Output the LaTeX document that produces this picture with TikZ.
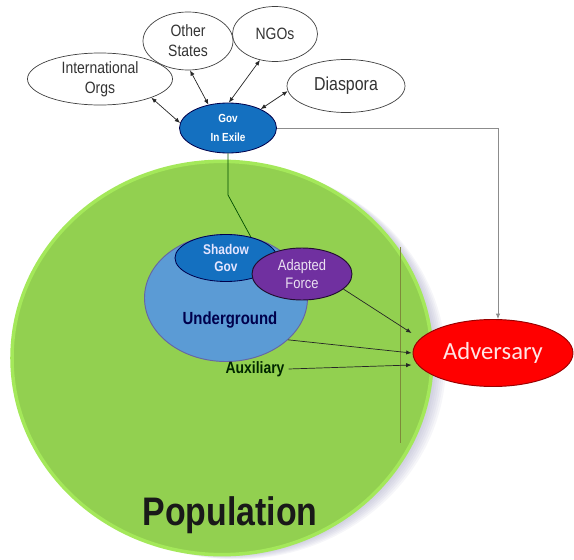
\documentclass[tikz,border=0pt]{standalone}
\usepackage{fontspec}
\setmainfont{Liberation Sans}
\newfontfamily\narrowfont[FakeStretch=0.85]{Liberation Sans}
\newfontfamily\calibrifont{Carlito}
\usetikzlibrary{positioning, arrows.meta, shapes}

\definecolor{popgreen}{HTML}{92D050}
\definecolor{glowgreen}{HTML}{A4E85A}
\definecolor{shadowgrey}{HTML}{8C8CB4}
\definecolor{govblue}{HTML}{1470C0}
\definecolor{ugblue}{HTML}{5B9BD5}
\definecolor{forcepurple}{HTML}{7030A0}
\definecolor{advred}{HTML}{FF0000}
\definecolor{linkolive}{HTML}{7E8A3A}

\begin{document}
\begin{tikzpicture}[x=0.03cm, y=-0.03cm, font=\narrowfont,
    every node/.style={align=center},
    oval/.style={ellipse, draw, inner sep=0pt},
    outer/.style={oval, fill=white, draw=black!75, line width=0.6pt,
        font=\narrowfont\fontsize{14}{17}\selectfont, text=black!80},
    gov/.style={oval, fill=govblue, draw=black!70!blue, line width=0.7pt, text=white},
    arrow/.style={-{Latex[length=1.6mm, width=1.3mm]}, line width=0.6pt, black!85},
    dblarrow/.style={{Latex[length=1.6mm, width=1.3mm]}-{Latex[length=1.6mm, width=1.3mm]}, line width=0.6pt, black!85},
]
\useasboundingbox (0,0) rectangle (574,560);

% soft shadow of the population
\foreach \s in {2,4,...,14}
  \fill[shadowgrey, opacity=0.08] (222+\s,358+\s/3) ellipse [x radius=6.3cm, y radius=5.9cm];

% the population
\node[oval, minimum width=12.6cm, minimum height=11.8cm, fill=popgreen,
    draw=glowgreen, line width=3pt] (population) at (222,358) {};
\node[font=\narrowfont\bfseries\fontsize{34}{36}\selectfont, text=black!90] (popname) at (230,515) {Population};

\coordinate (vtop) at (400,247);
\coordinate (vbot) at (400,443);
\draw[linkolive, line width=0.5pt] (vtop) -- (vbot);

% outside
\node[outer, minimum width=4.35cm, minimum height=1.56cm] (intl) at (100,79) {International\\Orgs};
\node[outer, minimum width=2.7cm, minimum height=1.74cm] (other) at (188,41) {Other\\States};
\node[outer, minimum width=2.55cm, minimum height=1.65cm] (ngos) at (275,34) {NGOs};
\node[outer, minimum width=3.54cm, minimum height=1.59cm, font=\narrowfont\fontsize{16}{17}\selectfont] (diaspora) at (346,86) {Diaspora};

\node[gov, minimum width=2.91cm, minimum height=1.5cm, font=\narrowfont\bfseries\fontsize{10}{16}\selectfont] (gov) at (228,128) {Gov\\In Exile};

% inside
\node[oval, minimum width=4.89cm, minimum height=3.81cm, fill=ugblue, draw=black!60!blue!60, line width=0.8pt] (underground) at (226,298) {};
\node[gov, minimum width=3.06cm, minimum height=1.41cm, font=\narrowfont\bfseries\fontsize{12}{15}\selectfont, text=blue!10] (shadow) at (226,258) {Shadow\\Gov};
\node[oval, minimum width=3.0cm, minimum height=1.56cm, fill=forcepurple, draw=black!70!forcepurple, line width=0.8pt,
    font=\narrowfont\fontsize{13}{15.5}\selectfont, text=forcepurple!15] (adapted) at (302,274) {Adapted\\Force};
\node[font=\narrowfont\bfseries\fontsize{15}{17}\selectfont, text=blue!30!black] (ugname) at (230,320) {Underground};
\node[font=\narrowfont\bfseries\fontsize{14}{16}\selectfont, text=green!15!black] (auxiliary) at (255,369) {Auxiliary};

\node[oval, minimum width=4.8cm, minimum height=2.01cm, fill=advred, draw=red!60!black, line width=0.8pt,
    font=\calibrifont\fontsize{21}{23}\selectfont, text=red!10] (adversary) at (493,353) {Adversary};

\draw[dblarrow] (intl.-20) -- (gov.174);
\draw[dblarrow] (other.-86) -- (gov.130);
\draw[dblarrow] (ngos.-120) -- (gov.88);
\draw[dblarrow] (diaspora.185) -- (gov.30);

\draw[arrow, black!45] (gov.east) -| ([xshift=0.15cm]adversary.north);

\coordinate (bend) at (228,195);
\draw[line width=0.6pt, black!70!green] (gov.south) -- (bend) -- (shadow.40);

\draw[arrow] (adapted.-20) -- ([yshift=0.6cm, xshift=-0.03cm]adversary.west);
\draw[arrow] (underground.-34) -- ([xshift=-0.03cm]adversary.west);
\draw[arrow] (auxiliary.east) -- ([yshift=-0.36cm, xshift=-0.03cm]adversary.west);

\end{tikzpicture}
\end{document}
